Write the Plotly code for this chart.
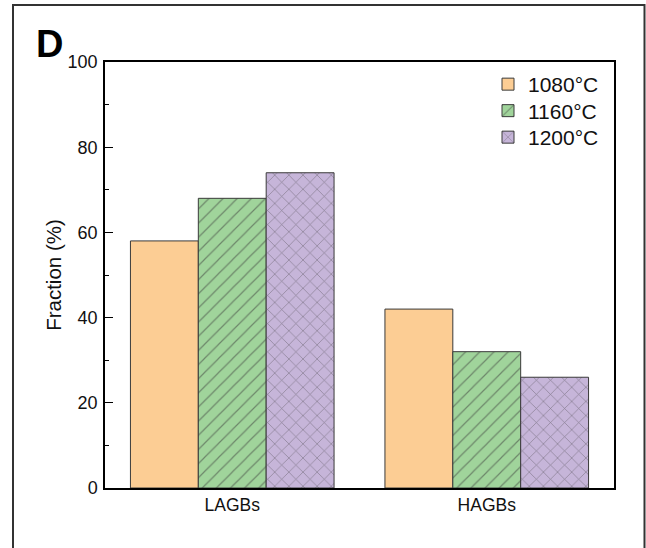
import plotly.graph_objects as go

categories = ["LAGBs", "HAGBs"]
series_names = ["1080°C", "1160°C", "1200°C"]
vals_1080 = [58, 42]
vals_1160 = [68, 32]
vals_1200 = [74, 26]

colors = ["#FCCD94", "#A0D49B", "#C6B5D9"]
patterns = ["", "/", "x"]
legend_ids = ["legend", "legend2", "legend3"]
legend_rows_px = [84.5, 111, 137.5]

L, R, T, B = 105, 32, 62, 60
W, H = 646, 548
pw, ph = W - L - R, H - T - B

def px_x(x):
    return (x - L) / pw

def px_y(y):
    return (H - B - y) / ph

FONT = "Liberation Sans, Arial, sans-serif"

fig = go.Figure()
for name, vals, col, pat, lg in zip(series_names, [vals_1080, vals_1160, vals_1200], colors, patterns, legend_ids):
    fig.add_trace(go.Bar(
        x=categories, y=vals, name=name, legend=lg,
        marker=dict(color=col, line=dict(color="#3a3a3a", width=1),
                    pattern=dict(shape=pat, fgcolor="#3a3a3a", bgcolor=col, size=10, solidity=0.12)),
    ))

legend_common = dict(xanchor="left", yanchor="middle", bgcolor="rgba(0,0,0,0)",
                     font=dict(size=21, family=FONT, color="#111111"), itemwidth=30)
legends = {}
for lg, ypx in zip(legend_ids, legend_rows_px):
    legends[lg] = dict(x=px_x(488), y=px_y(ypx), **legend_common)

fig.update_layout(
    width=W, height=H,
    margin=dict(l=L, r=R, t=T, b=B, pad=0),
    paper_bgcolor="white", plot_bgcolor="white",
    barmode="group", bargap=0.2, bargroupgap=0,
    font=dict(family=FONT, color="#111111", size=17.5),
    showlegend=True,
    xaxis=dict(showline=True, linecolor="black", linewidth=1.5, mirror=True,
               ticks="", showgrid=False, tickfont=dict(size=17.5), range=[-0.5, 1.5]),
    yaxis=dict(showline=True, linecolor="black", linewidth=1.5, mirror=True,
               range=[0, 100], dtick=20, ticks="inside", ticklen=8, tickwidth=1.2,
               tickcolor="black", showgrid=False, zeroline=False,
               tickfont=dict(size=18), ticklabelstandoff=2,
               minor=dict(dtick=10, ticks="inside", ticklen=4, tickwidth=1.2, tickcolor="black", showgrid=False),
               title=dict(text="Fraction (%)", font=dict(size=20.5), standoff=0)),
    shapes=[dict(type="rect", xref="paper", yref="paper",
                 x0=px_x(13), x1=px_x(644.5), y0=px_y(560), y1=px_y(5),
                 line=dict(color="#333333", width=2), fillcolor="rgba(0,0,0,0)", layer="below")],
    annotations=[dict(text="<b>D</b>", xref="paper", yref="paper", x=px_x(34), y=px_y(44),
                      xanchor="left", yanchor="middle", showarrow=False,
                      font=dict(size=38, family=FONT, color="black"))],
    **legends,
)

fig.write_html("out.html")
